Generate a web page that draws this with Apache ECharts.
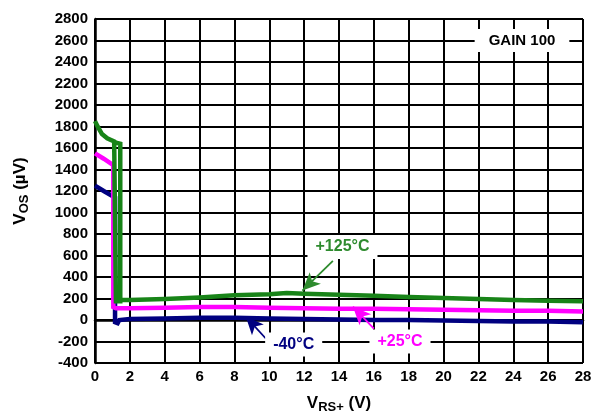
<!DOCTYPE html>
<html>
<head>
<meta charset="utf-8">
<script src="https://cdn.jsdelivr.net/npm/echarts@6/dist/echarts.min.js"></script>
<style>
  html, body { margin: 0; padding: 0; background: #fff; }
  #chart { width: 607px; height: 419px; }
</style>
</head>
<body>
<div id="chart"></div>
<script>
// V_RS+ (V) vs V_OS (uV), GAIN 100
var xTicks = [0, 28, 2];
var yTicks = [-400, 2800, 200];

var vosM40 = [[0,1250],[0.5,1200],[1.15,1140],[1.15,-20],[1.3,-30],[1.4,0],[2,10],[4,15],[6,20],[8,20],[10,15],[12,10],[14,5],[16,0],[18,0],[20,-5],[22,-10],[24,-15],[26,-15],[28,-20]];
var vos25 = [[0,1550],[0.5,1500],[1.05,1440],[1.05,120],[1.2,110],[2,110],[4,115],[6,120],[8,120],[10,115],[12,110],[14,105],[16,105],[18,100],[20,95],[22,90],[24,85],[26,85],[28,80]];
var vos125 = [[0,1850],[0.15,1800],[0.4,1730],[0.7,1690],[1.1,1660],[1.2,1650],[1.2,175],[1.45,175],[1.45,1640],[1.2,1650],[1.45,1640],[1.45,185],[2,185],[4,195],[6,210],[8,230],[10,240],[11,250],[12,245],[14,235],[16,225],[18,215],[20,205],[22,195],[24,185],[26,180],[28,175]];

// annotation text positions and arrows (data coords)
var labels = [
  { name: '+125°C', at: [14.2, 680], color: '#2e8b2e', arrow: [[13.65, 550], [11.9, 274]] },
  { name: '-40°C', at: [11.4, -228], color: '#000080', arrow: [[9.8, -172], [8.65, 32]] },
  { name: '+25°C', at: [17.5, -200], color: '#ff00ff', arrow: [[16.0, -80], [14.8, 124]] }
];
var gainText = { name: 'GAIN 100', at: [24.5, 2600] };

var font = '"Liberation Sans", Arial, sans-serif';

function mkSeries(name, data, color, ann) {
  var s = {
    name: name,
    type: 'line',
    data: data,
    showSymbol: false,
    symbol: 'none',
    lineStyle: { color: color, width: 4.5, join: 'miter' },
    z: 3,
    animation: false
  };
  if (ann) {
    s.markLine = {
      silent: true,
      symbol: ['none', 'arrow'],
      symbolSize: [12, 18],
      label: { show: false },
      lineStyle: { color: ann.color, width: 1.8, type: 'solid' },
      data: [[{ coord: ann.arrow[0] }, { coord: ann.arrow[1] }]]
    };
    s.markPoint = {
      silent: true,
      symbol: 'rect',
      symbolSize: 0,
      label: {
        show: true,
        position: 'inside',
        formatter: ann.name,
        color: ann.color,
        fontFamily: font,
        fontWeight: 'bold',
        fontSize: 16,
        backgroundColor: '#fff',
        padding: [4, 8]
      },
      data: [{ coord: ann.at }]
    };
  }
  return s;
}

var chart = echarts.init(document.getElementById('chart'));
var gainSeries = mkSeries('gain', [], '#000', null);
gainSeries.markPoint = {
  silent: true,
  symbol: 'rect',
  symbolSize: 0,
  label: {
    show: true,
    position: 'inside',
    formatter: gainText.name,
    color: '#000',
    fontFamily: font,
    fontWeight: 'bold',
    fontSize: 15,
    backgroundColor: '#fff',
    padding: [4, 14]
  },
  data: [{ coord: gainText.at }]
};

var tickFmt = function (v) { return String(v); };

chart.setOption({
  backgroundColor: '#fff',
  animation: false,
  grid: { left: 95, right: 24, top: 19, bottom: 55 },
  xAxis: {
    type: 'value',
    min: xTicks[0], max: xTicks[1], interval: xTicks[2],
    name: '{v|V}{s|RS+}{v| (V)}',
    nameLocation: 'middle',
    nameGap: 30,
    nameTextStyle: {
      rich: {
        v: { fontFamily: font, fontWeight: 'bold', fontSize: 17, color: '#000' },
        s: { fontFamily: font, fontWeight: 'bold', fontSize: 13, color: '#000', verticalAlign: 'bottom', padding: [8, 0, 0, 0] }
      }
    },
    axisLine: { lineStyle: { color: '#000', width: 2.5 } },
    axisTick: { show: false },
    splitLine: { show: true, lineStyle: { color: '#000', width: 2 } },
    axisLabel: { color: '#000', fontFamily: font, fontWeight: 'bold', fontSize: 15, margin: 6, formatter: tickFmt }
  },
  yAxis: {
    type: 'value',
    min: yTicks[0], max: yTicks[1], interval: yTicks[2],
    name: '{v|V}{s|OS}{v| (µV)}',
    nameLocation: 'middle',
    nameGap: 64,
    nameRotate: 90,
    nameTextStyle: {
      rich: {
        v: { fontFamily: font, fontWeight: 'bold', fontSize: 17, color: '#000' },
        s: { fontFamily: font, fontWeight: 'bold', fontSize: 13, color: '#000', verticalAlign: 'bottom', padding: [8, 0, 0, 0] }
      }
    },
    axisLine: { show: true, lineStyle: { color: '#000', width: 2.5 } },
    axisTick: { show: false },
    splitLine: { show: true, lineStyle: { color: '#000', width: 2 } },
    axisLabel: { color: '#000', fontFamily: font, fontWeight: 'bold', fontSize: 15, margin: 7, formatter: tickFmt }
  },
  series: [
    mkSeries('-40°C', vosM40, '#000080', labels[1]),
    mkSeries('+25°C', vos25, '#ff00ff', labels[2]),
    mkSeries('+125°C', vos125, '#188418', labels[0]),
    gainSeries
  ]
});
</script>
</body>
</html>
